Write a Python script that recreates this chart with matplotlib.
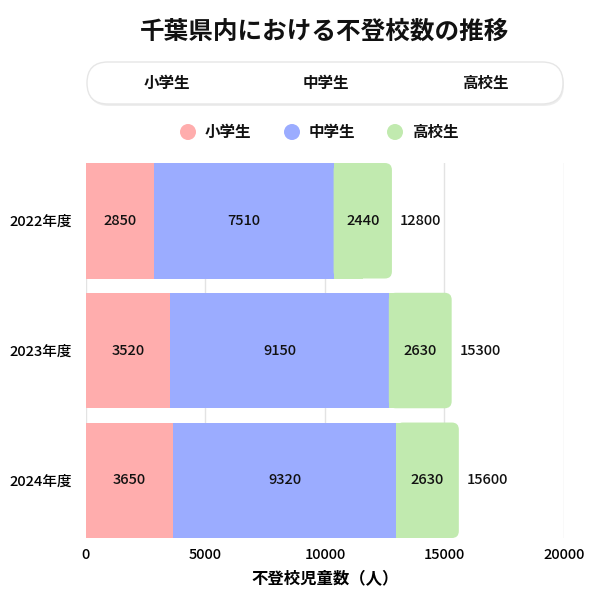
import matplotlib
matplotlib.use("Agg")
import matplotlib.pyplot as plt
from matplotlib.patches import FancyBboxPatch, Circle
import numpy as np

plt.rcParams['font.family'] = ['Noto Sans CJK JP', 'DejaVu Sans']

years = ["2022年度", "2023年度", "2024年度"]
series_names = ["小学生", "中学生", "高校生"]
elementary = [2850, 3520, 3650]
middle = [7510, 9150, 9320]
high = [2440, 2630, 2630]
totals = [12800, 15300, 15600]
xticks = [0, 5000, 10000, 15000, 20000]
colors = ["#ffadad", "#9bacff", "#c1eaaf"]

fig = plt.figure(figsize=(6, 6), dpi=100)
ax = fig.add_axes([0.1433, 0.1033, 0.7967, 0.625])

h = 0.89
y = np.arange(len(years))
ax.set_xlim(0, 20000)
ax.set_ylim(2 + h / 2, -h / 2)

ax.barh(y, elementary, height=h, color=colors[0], zorder=2, linewidth=0)
ax.barh(y, middle, left=elementary, height=h, color=colors[1], zorder=2, linewidth=0)
left_high = np.array(elementary) + np.array(middle)
ax.barh(y, np.array(high) / 2, left=left_high, height=h, color=colors[2], zorder=2, linewidth=0)

# rounded right end of the green segment
px_x = 20000 / 478.0   # data units per px in x
px_y = 3 * 1.0 / 390.0  # data units per px in y
r_px = 7
for yi, l, w in zip(y, left_high, high):
    p = FancyBboxPatch((l, yi - h / 2), w, h,
                       boxstyle=f"round,pad=0,rounding_size={r_px * px_x}",
                       mutation_aspect=px_y / px_x,
                       facecolor=colors[2], edgecolor="none", zorder=2)
    ax.add_patch(p)

fw = "medium"
for yi, e, m, hh, t in zip(y, elementary, middle, high, totals):
    ax.text(e / 2, yi, str(e), ha="center", va="center", fontsize=10.5, fontweight=fw, color="#111", zorder=3)
    ax.text(e + m / 2, yi, str(m), ha="center", va="center", fontsize=10.5, fontweight=fw, color="#111", zorder=3)
    ax.text(e + m + hh / 2, yi, str(hh), ha="center", va="center", fontsize=10.5, fontweight=fw, color="#111", zorder=3)
    ax.text(t + 8 * px_x, yi, str(t), ha="left", va="center", fontsize=10.5, fontweight=fw, color="#111", zorder=3)

ax.set_yticks(y)
ax.set_yticklabels(years, fontsize=10.5, fontweight=fw)
ax.set_xticks(xticks)
ax.set_xticklabels([str(v) for v in xticks], fontsize=10.5, fontweight=fw)
ax.tick_params(axis="both", length=0)
ax.tick_params(axis="y", pad=10)
ax.tick_params(axis="x", pad=7)
for s in ax.spines.values():
    s.set_visible(False)
ax.grid(axis="x", color="#e3e3e3", linewidth=1, zorder=0)
ax.set_axisbelow(True)
ax.set_xlabel("不登校児童数（人）", fontsize=11.8, fontweight="bold", labelpad=5)

W, H = 600, 600
# title (centered over plot area)
fig.text(325 / W, 1 - 32 / H, "千葉県内における不登校数の推移", ha="center", va="center",
         fontsize=17.7, fontweight="bold", color="#111")

# tab bar
shadow = FancyBboxPatch((88 / W, 1 - 106 / H), (476 / W), 42 / H,
                        boxstyle="round,pad=0,rounding_size=0.035",
                        transform=fig.transFigure, facecolor="#dcdcdc", edgecolor="none",
                        alpha=0.5, zorder=1)
fig.patches.append(shadow)
tab = FancyBboxPatch((87 / W, 1 - 104 / H), (476 / W), 42 / H,
                     boxstyle="round,pad=0,rounding_size=0.035",
                     transform=fig.transFigure, facecolor="white", edgecolor="#e6e6e6",
                     linewidth=1, zorder=2)
fig.patches.append(tab)
for name, xc in zip(series_names, [167, 326, 485]):
    fig.text(xc / W, 1 - 83 / H, name, ha="center", va="center", fontsize=11.2,
             fontweight="bold", color="#111", zorder=3)

# legend
for name, col, xc in zip(series_names, colors, [188, 292, 395]):
    c = Circle((xc / W, 1 - 132 / H), 8 / W, transform=fig.transFigure,
               facecolor=col, edgecolor="none")
    fig.patches.append(c)
    fig.text((xc + 17) / W, 1 - 132 / H, name, ha="left", va="center", fontsize=11.2,
             fontweight="bold", color="#111")

fig.savefig("out.png", dpi=100, facecolor="white")
